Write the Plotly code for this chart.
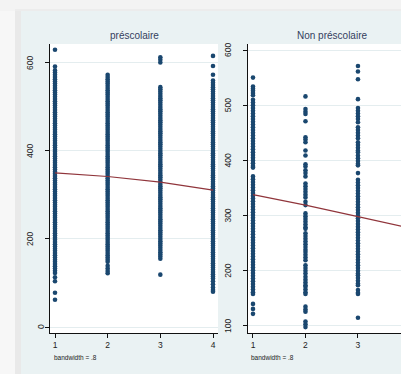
import plotly.graph_objects as go

W, H = 401, 374

# ---------------- data ----------------
titles = ["préscolaire", "Non préscolaire"]
note = "bandwidth = .8"

# préscolaire (left panel): scores by category 1..4
pre_c1 = [630, 592,
          583, 578, 573, 568, 563, 558, 553, 548, 543, 538, 533, 528, 523, 518, 513,
          508, 503, 498, 493, 488, 483, 478, 473, 468, 463, 458, 453, 448, 443, 438,
          433, 428, 423, 418, 413, 408, 403, 398, 393, 388, 383, 378, 373, 368, 363,
          358, 353, 348, 343, 338, 333, 328, 323, 318, 313, 308, 303, 298, 293, 288,
          283, 278, 273, 268, 263, 258, 253, 248, 243, 238, 233, 228, 223, 218, 213,
          208, 203, 198, 193, 188, 183, 178, 173, 168, 163, 158, 153, 148, 143, 138,
          133, 128, 123, 113, 104, 78, 62]
pre_c2 = [573, 568, 563, 558, 553, 548, 543, 538, 533, 528, 523, 518, 513, 508, 503,
          498, 493, 488, 483, 478, 473, 468, 463, 458, 453, 448, 443, 438, 433, 428,
          423, 418, 413, 408, 403, 398, 393, 388, 383, 378, 373, 368, 363, 358, 353,
          348, 343, 338, 333, 328, 323, 318, 313, 308, 303, 298, 293, 288, 283, 278,
          273, 268, 263, 258, 253, 248, 243, 238, 233, 228, 223, 218, 213, 208, 203,
          198, 193, 188, 183, 178, 173, 168, 163, 158, 153, 148,
          139, 133, 127, 122]
pre_c3 = [613, 607, 601,
          545, 540, 535, 530, 525, 520, 515, 510, 505, 500, 495, 490, 485, 480, 475,
          470, 465, 460, 455, 450, 445, 440, 435, 430, 425, 420, 415, 410, 405, 400,
          395, 390, 385, 380, 375, 370, 365, 360, 355, 350, 345, 340, 335, 330, 325,
          320, 315, 310, 305, 300, 295, 290, 285, 280, 275, 270, 265, 260, 255, 250,
          245, 240, 235, 230, 225, 220, 215, 210, 205, 200, 195, 190, 185, 180, 175,
          170, 165, 160, 155, 119]
pre_c4 = [616, 593, 573,
          560, 555, 550, 545, 540, 535, 530, 525, 520, 515, 510, 505, 500, 495, 490,
          485, 480, 475, 470, 465, 460, 455, 450, 445, 440, 435, 430, 425, 420, 415,
          410, 405, 400, 395, 390, 385, 380, 375, 370, 365, 360, 355, 350, 345, 340,
          335, 330, 325, 320, 315, 310, 305, 300, 295, 290, 285, 280, 275, 270, 265,
          260, 255, 250, 245, 240, 235, 230, 225, 220, 215, 210, 205, 200, 195, 190,
          185, 180, 175, 170, 165, 160, 155, 150, 145, 140, 135, 130, 125, 120, 115,
          110, 104, 97, 90, 84, 80]
pre_lowess_x = [1, 2, 3, 4]
pre_lowess_y = [350, 342, 329, 311]

# Non préscolaire (right panel)
non_c1 = [550, 534, 530, 526, 522, 518,
          510, 505, 500, 495, 490, 485, 480, 475, 470, 465, 460, 455, 450, 445, 440, 435, 430, 425,
          420, 415, 410, 405, 400, 395, 390, 387,
          371, 366, 361, 356, 351, 346, 341, 336, 331, 326, 321, 316, 311, 306, 301, 296, 291, 286,
          281, 276, 271, 266, 261, 256, 251, 246, 241, 236, 231, 226, 221, 216, 211, 206, 201, 196,
          191, 186, 181, 176, 171, 166, 161, 158, 140, 131, 122]
non_c2 = [516, 493, 488, 484, 471, 442, 438, 433, 418, 409, 393, 389, 382, 377, 371,
          358, 353, 348, 343, 338, 333, 325, 319, 304, 299, 294, 289, 284, 279, 276, 268, 263, 258,
          253, 248, 243, 238, 234, 229, 224, 219, 210, 205, 200, 195, 189, 184, 179, 174, 171, 166,
          161, 158, 135, 130, 126, 108, 103, 98]
non_c3 = [571, 561, 547, 511, 495, 490, 485, 480, 475, 469, 460, 455, 450, 445, 440, 433, 428, 423,
          418, 415, 409, 404, 399, 394, 391, 377,
          365, 360, 355, 350, 345, 340, 335, 330, 325, 320, 315, 310, 305, 300, 295, 290, 285, 280,
          275, 270, 265, 260, 255, 250, 245, 240, 235, 230, 225, 220, 215, 210, 205, 200, 195, 192,
          187, 182, 177, 174, 165, 160, 158, 115]
non_lowess_x = [1, 2, 3, 4]
non_lowess_y = [338, 319, 298, 277]

left_yticks = [0, 200, 400, 600]
right_yticks = [100, 200, 300, 400, 500, 600]
left_xticks = [1, 2, 3, 4]
right_xticks = [1, 2, 3, 4]

# ---------------- styling ----------------
NAVY = "#1a476f"
MAROON = "#90353b"
BG = "#eaf2f3"
GRID = "#e4edef"
FONT = "Liberation Sans"

def px(x):
    return x / W

def py(y):
    return 1 - y / H

fig = go.Figure()

def add_cols(cols, xa, ya):
    for i, vals in enumerate(cols):
        fig.add_trace(go.Scatter(x=[i + 1] * len(vals), y=vals, mode="markers",
                                 marker=dict(color=NAVY, size=4.6, line=dict(width=0)),
                                 xaxis=xa, yaxis=ya, showlegend=False, hoverinfo="skip"))

add_cols([pre_c1, pre_c2, pre_c3, pre_c4], "x", "y")
fig.add_trace(go.Scatter(x=pre_lowess_x, y=pre_lowess_y, mode="lines",
                         line=dict(color=MAROON, width=1.2), xaxis="x", yaxis="y",
                         showlegend=False, hoverinfo="skip"))
add_cols([non_c1, non_c2, non_c3], "x2", "y2")
fig.add_trace(go.Scatter(x=non_lowess_x, y=non_lowess_y, mode="lines",
                         line=dict(color=MAROON, width=1.2), xaxis="x2", yaxis="y2",
                         showlegend=False, hoverinfo="skip"))

ydom = [py(333), py(44)]
axis_common = dict(showline=True, linecolor="#111111", linewidth=1.4, ticks="outside",
                   ticklen=4, tickcolor="#111111", tickwidth=1, zeroline=False,
                   tickfont=dict(family=FONT, size=8.5, color="#222222"))

fig.update_layout(
    width=W, height=H, margin=dict(l=0, r=0, t=0, b=0),
    paper_bgcolor=BG, plot_bgcolor="white",
    xaxis=dict(domain=[px(50), px(218)], range=[0.905, 4.095], tickvals=left_xticks,
               showgrid=False, anchor="y", **axis_common),
    yaxis=dict(domain=ydom, range=[-13.6, 643], tickvals=left_yticks, showticklabels=False,
               showgrid=True, gridcolor=GRID, gridwidth=1, anchor="x", **axis_common),
    xaxis2=dict(domain=[px(248), 1.0], range=[0.905, 3.82], tickvals=right_xticks,
                showgrid=False, anchor="y2", **axis_common),
    yaxis2=dict(domain=ydom, range=[87.3, 610.9], tickvals=right_yticks, showticklabels=False,
                showgrid=True, gridcolor=GRID, gridwidth=1, anchor="x2", **axis_common),
    font=dict(family=FONT),
    hovermode=False,
)

# outer screenshot background / shadow around the graph region
shapes = [
    dict(type="rect", xref="paper", yref="paper", x0=0, x1=px(21), y0=0, y1=1,
         fillcolor="#f7f7f7", line=dict(width=0), layer="below"),
    dict(type="rect", xref="paper", yref="paper", x0=0, x1=1, y0=py(11), y1=1,
         fillcolor="#f3f3f3", line=dict(width=0), layer="below"),
    dict(type="rect", xref="paper", yref="paper", x0=px(15), x1=px(21), y0=0, y1=py(9),
         fillcolor="#e9e9e9", line=dict(width=0), layer="below"),
    dict(type="rect", xref="paper", yref="paper", x0=px(15), x1=1, y0=py(11), y1=py(9),
         fillcolor="#ececec", line=dict(width=0), layer="below"),
]
fig.update_layout(shapes=shapes)

ann = []
# panel titles
ann.append(dict(text=titles[0], x=px(134), y=py(36), xref="paper", yref="paper",
                showarrow=False, font=dict(family=FONT, size=10, color="#34405e"),
                xanchor="center", yanchor="middle"))
ann.append(dict(text=titles[1], x=px(332), y=py(36), xref="paper", yref="paper",
                showarrow=False, font=dict(family=FONT, size=10, color="#34405e"),
                xanchor="center", yanchor="middle"))
# notes
for xpos in (52, 249):
    ann.append(dict(text=note, x=px(xpos), y=py(357), xref="paper", yref="paper",
                    showarrow=False, font=dict(family=FONT, size=6.5, color="#222222"),
                    xanchor="left", yanchor="middle"))
# rotated y tick labels (positioned through the axes' scales)
for v in left_yticks:
    xpos = 41 if v == 0 else 30
    ann.append(dict(text=str(v), x=px(xpos), y=v, xref="paper", yref="y", showarrow=False,
                    textangle=-90, font=dict(family=FONT, size=8.5, color="#222222"),
                    xanchor="center", yanchor="middle"))
for v in right_yticks:
    ann.append(dict(text=str(v), x=px(228), y=v, xref="paper", yref="y2", showarrow=False,
                    textangle=-90, font=dict(family=FONT, size=8.5, color="#222222"),
                    xanchor="center", yanchor="middle"))
fig.update_layout(annotations=ann)

fig.write_html("out.html", config={"displayModeBar": False},
               post_script="document.body.style.margin='0';document.body.style.overflow='hidden';")
